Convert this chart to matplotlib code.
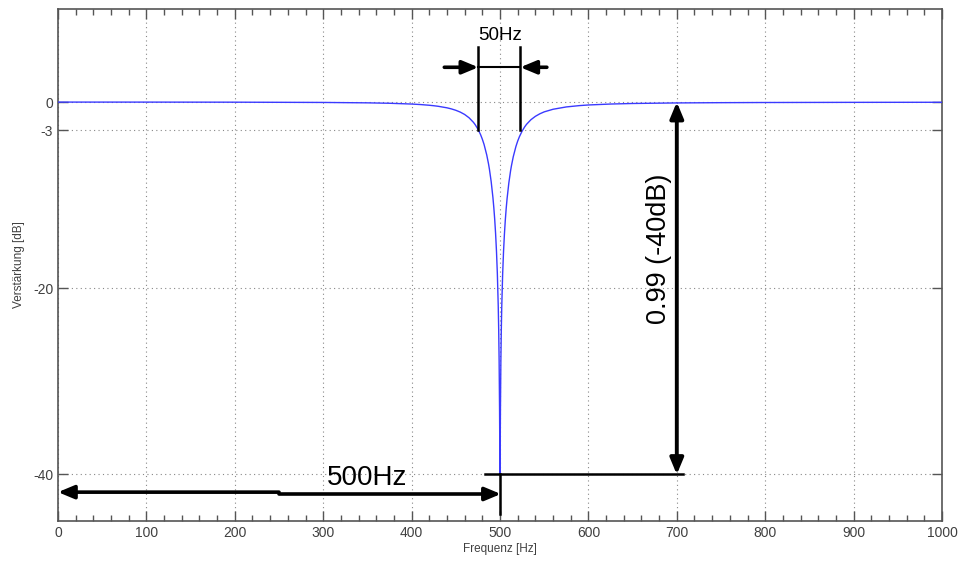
import matplotlib
matplotlib.use("Agg")
import matplotlib.pyplot as plt
from matplotlib.ticker import MultipleLocator

# Frequency response (Hz, dB)
freq = [0, 100, 200, 300, 350, 375, 400, 410, 420, 425, 430, 440, 445, 450, 455,
        460, 465, 470, 472, 475, 478, 480, 482, 485, 487, 488, 490, 492, 493, 494,
        495, 496, 497, 498, 498.5, 499, 499.5, 499.75, 500, 500.25, 500.5, 501,
        501.5, 502, 503, 504, 505, 506, 507, 508, 510, 512, 513, 515, 518, 520,
        522, 525, 528, 530, 535, 540, 545, 550, 560, 575, 590, 600, 625, 650, 700,
        750, 800, 900, 1000]
gain_db = [0.0, -0.002, -0.01, -0.038, -0.081, -0.126, -0.21, -0.264, -0.34, -0.39,
           -0.45, -0.615, -0.731, -0.88, -1.073, -1.33, -1.685, -2.18, -2.435, -2.90,
           -3.49, -3.98, -4.56, -5.68, -6.63, -7.19, -8.53, -10.26, -11.33, -12.58,
           -14.10, -15.98, -18.42, -21.88, -24.32, -27.69, -33.01, -36.99, -40.0,
           -36.99, -33.04, -27.71, -24.35, -21.92, -18.47, -16.04, -14.18, -12.68,
           -11.43, -10.38, -8.68, -7.36, -6.81, -5.87, -4.77, -4.19, -3.71, -3.12,
           -2.65, -2.39, -1.89, -1.53, -1.26, -1.05, -0.77, -0.52, -0.376, -0.31,
           -0.209, -0.15, -0.09, -0.062, -0.045, -0.028, -0.019]

xticks = [0, 100, 200, 300, 400, 500, 600, 700, 800, 900, 1000]
yticks = [0, -3, -20, -40]
ytick_labels = ["0", "-3", "-20", "-40"]

plt.rcParams['font.family'] = ['Liberation Sans', 'DejaVu Sans']

fig = plt.figure(figsize=(9.69, 5.63), dpi=100)
ax = fig.add_axes([58/969, 42/563, (942-58)/969, (521-9)/563])

ax.plot(freq, gain_db, color="#3a3aff", lw=1.0, zorder=3)

ax.set_xlim(0, 1000)
ax.set_ylim(-45, 10)
ax.set_xticks(xticks)
ax.set_yticks(yticks)
ax.set_yticklabels(ytick_labels)
ax.xaxis.set_minor_locator(MultipleLocator(20))
ax.grid(True, which="major", linestyle=(0, (1, 3)), color="#888888", lw=0.8)
ax.tick_params(which="both", direction="in", top=True, right=True, colors="#555555",
               labelcolor="#404040", labelsize=10)
ax.tick_params(which="major", length=7, width=1)
ax.tick_params(which="minor", length=4, width=1)
for s in ax.spines.values():
    s.set_color("#555555")
    s.set_linewidth(1.2)
ax.set_xlabel("Frequenz [Hz]", fontsize=8.5, color="#404040", labelpad=2)
ax.set_ylabel("Verstärkung [dB]", fontsize=8.5, color="#404040", labelpad=6)

k = "black"
ap = dict(arrowstyle="-|>,head_length=0.6,head_width=0.25", color=k, lw=2.6,
          mutation_scale=16, shrinkA=0, shrinkB=0)

# 50 Hz bandwidth marker
fl, fr = 475.5, 523.0
ax.plot([fl, fl], [-3, 5.9], color=k, lw=1.8, zorder=4)
ax.plot([fr, fr], [-3, 5.9], color=k, lw=1.8, zorder=4)
ax.plot([fl, fr], [3.74, 3.74], color=k, lw=1.5, zorder=4)
ax.annotate("", xy=(fl, 3.74), xytext=(437, 3.74), arrowprops=ap, zorder=5)
ax.annotate("", xy=(fr, 3.74), xytext=(553, 3.74), arrowprops=ap, zorder=5)
ax.text(500, 7.2, "50Hz", ha="center", va="center", fontsize=13.5)

# 500 Hz marker
ax.annotate("", xy=(0, -41.9), xytext=(250, -41.9), arrowprops=ap, zorder=5)
ax.annotate("", xy=(501, -42.1), xytext=(250, -42.1), arrowprops=ap, zorder=5)
ax.plot([500, 500], [-40, -44.3], color=k, lw=1.8, zorder=4)
ax.text(350, -40.4, "500Hz", ha="center", va="center", fontsize=20)

# -40 dB depth marker
ax.plot([483, 707], [-40, -40], color=k, lw=1.8, zorder=4)
ap2 = dict(arrowstyle="<|-|>,head_length=0.6,head_width=0.25", color=k, lw=2.8,
           mutation_scale=16, shrinkA=0, shrinkB=0)
ax.annotate("", xy=(700, 0), xytext=(700, -40), arrowprops=ap2, zorder=5)
ax.text(680, -15.8, "0.99 (-40dB)", ha="center", va="center", rotation=90,
        fontsize=19.5)

fig.savefig("out.png", dpi=100)
